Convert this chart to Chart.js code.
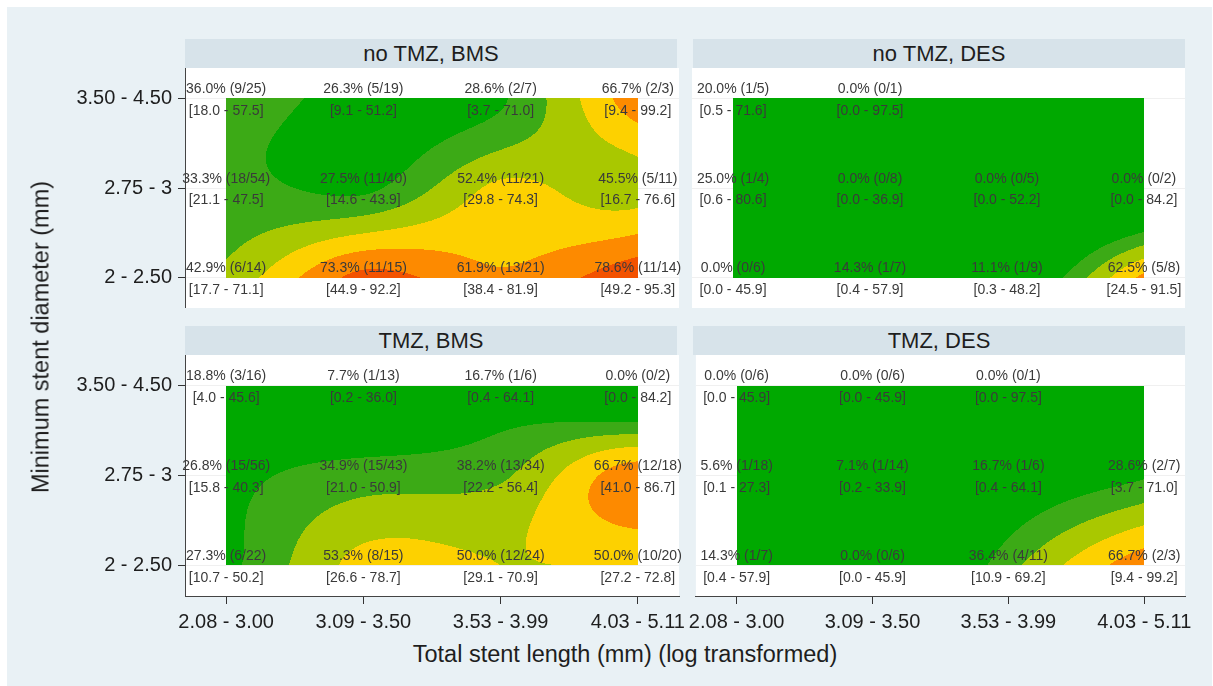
<!DOCTYPE html>
<html>
<head>
<meta charset="utf-8">
<script src="https://cdn.jsdelivr.net/npm/chart.js@4.4.1/dist/chart.umd.min.js"></script>
<style>
  body { margin: 0; background: #fff; font-family: "Liberation Sans", Arial, sans-serif; }
  #bg { position: absolute; left: 7px; top: 7px; width: 1205px; height: 679px; background: #e9f1f5; }
  .strip { position: absolute; width: 492px; height: 29px; background: #d7e3ea; color: #1e1e1e;
           font-size: 22px; line-height: 29px; text-align: center; }
  canvas { position: absolute; }
  .ttl { position: absolute; color: #1e1e1e; font-size: 23.5px; white-space: nowrap; }
</style>
</head>
<body>
<div id="bg"></div>
<div class="strip" style="left:185px;top:39px">no TMZ, BMS</div>
<div class="strip" style="left:693px;top:39px">no TMZ, DES</div>
<div class="strip" style="left:185px;top:326px">TMZ, BMS</div>
<div class="strip" style="left:693px;top:326px">TMZ, DES</div>
<canvas id="c1" width="730" height="240" style="left:10px;top:68px"></canvas>
<canvas id="c2" width="518" height="240" style="left:682px;top:68px"></canvas>
<canvas id="c3" width="730" height="281" style="left:10px;top:355px"></canvas>
<canvas id="c4" width="518" height="281" style="left:682px;top:355px"></canvas>
<div class="ttl" style="left:41px;top:337px;transform:translate(-50%,-50%) rotate(-90deg)">Minimum stent diameter (mm)</div>
<div class="ttl" style="left:625px;top:654px;transform:translate(-50%,-50%)">Total stent length (mm) (log transformed)</div>
<script>
// tick labels (x = total stent length groups, y = min diameter groups, bottom to top)
const lengthLabels = ['2.08 - 3.00', '3.09 - 3.50', '3.53 - 3.99', '4.03 - 5.11'];
const diamLabels = ['2 - 2.50', '2.75 - 3', '3.50 - 4.50'];

// rows are diameter groups (bottom to top), columns are length groups
const noTmzBmsPct = [[42.9, 73.3, 61.9, 78.6], [33.3, 27.5, 52.4, 45.5], [36.0, 26.3, 28.6, 66.7]];
const noTmzBmsEv  = [[6, 11, 13, 11], [18, 11, 11, 5], [9, 5, 2, 2]];
const noTmzBmsN   = [[14, 15, 21, 14], [54, 40, 21, 11], [25, 19, 7, 3]];
const noTmzBmsLo  = [[17.7, 44.9, 38.4, 49.2], [21.1, 14.6, 29.8, 16.7], [18.0, 9.1, 3.7, 9.4]];
const noTmzBmsHi  = [[71.1, 92.2, 81.9, 95.3], [47.5, 43.9, 74.3, 76.6], [57.5, 51.2, 71.0, 99.2]];

const noTmzDesPct = [[0.0, 14.3, 11.1, 62.5], [25.0, 0.0, 0.0, 0.0], [20.0, 0.0, null, null]];
const noTmzDesEv  = [[0, 1, 1, 5], [1, 0, 0, 0], [1, 0, null, null]];
const noTmzDesN   = [[6, 7, 9, 8], [4, 8, 5, 2], [5, 1, null, null]];
const noTmzDesLo  = [[0.0, 0.4, 0.3, 24.5], [0.6, 0.0, 0.0, 0.0], [0.5, 0.0, null, null]];
const noTmzDesHi  = [[45.9, 57.9, 48.2, 91.5], [80.6, 36.9, 52.2, 84.2], [71.6, 97.5, null, null]];

const tmzBmsPct = [[27.3, 53.3, 50.0, 50.0], [26.8, 34.9, 38.2, 66.7], [18.8, 7.7, 16.7, 0.0]];
const tmzBmsEv  = [[6, 8, 12, 10], [15, 15, 13, 12], [3, 1, 1, 0]];
const tmzBmsN   = [[22, 15, 24, 20], [56, 43, 34, 18], [16, 13, 6, 2]];
const tmzBmsLo  = [[10.7, 26.6, 29.1, 27.2], [15.8, 21.0, 22.2, 41.0], [4.0, 0.2, 0.4, 0.0]];
const tmzBmsHi  = [[50.2, 78.7, 70.9, 72.8], [40.3, 50.9, 56.4, 86.7], [45.6, 36.0, 64.1, 84.2]];

const tmzDesPct = [[14.3, 0.0, 36.4, 66.7], [5.6, 7.1, 16.7, 28.6], [0.0, 0.0, 0.0, null]];
const tmzDesEv  = [[1, 0, 4, 2], [1, 1, 1, 2], [0, 0, 0, null]];
const tmzDesN   = [[7, 6, 11, 3], [18, 14, 6, 7], [6, 6, 1, null]];
const tmzDesLo  = [[0.4, 0.0, 10.9, 9.4], [0.1, 0.2, 0.4, 3.7], [0.0, 0.0, 0.0, null]];
const tmzDesHi  = [[57.9, 45.9, 69.2, 99.2], [27.3, 33.9, 64.1, 71.0], [45.9, 45.9, 97.5, null]];

// contour cut points and fill colours
const cuts = [30, 40, 50, 60, 70, 80];
const levelColors = ['#00a900', '#3caa16', '#a9c800', '#fdd100', '#fd8a00', '#f35200', '#e3101a'];

function levelColor(v) {
  let k = 0;
  while (k < cuts.length && v >= cuts[k]) k++;
  return levelColors[k];
}

// thin plate spline surface through the observed cells (like Stata's contour default)
function fitSurface(grid) {
  const pts = [];
  grid.forEach((row, r) => row.forEach((v, c) => { if (v !== null) pts.push([c + 1, r + 1, v]); }));
  const n = pts.length, m = n + 3;
  const phi = (dx, dy) => { const r2 = dx * dx + dy * dy; return r2 > 0 ? 0.5 * r2 * Math.log(r2) : 0; };
  const A = Array.from({ length: m }, () => new Array(m + 1).fill(0));
  for (let i = 0; i < n; i++) {
    for (let j = 0; j < n; j++) A[i][j] = phi(pts[i][0] - pts[j][0], pts[i][1] - pts[j][1]);
    A[i][n] = 1; A[i][n + 1] = pts[i][0]; A[i][n + 2] = pts[i][1];
    A[n][i] = 1; A[n + 1][i] = pts[i][0]; A[n + 2][i] = pts[i][1];
    A[i][m] = pts[i][2];
  }
  for (let k = 0; k < m; k++) {
    let p = k;
    for (let i = k + 1; i < m; i++) if (Math.abs(A[i][k]) > Math.abs(A[p][k])) p = i;
    [A[k], A[p]] = [A[p], A[k]];
    for (let i = 0; i < m; i++) {
      if (i === k) continue;
      const f = A[i][k] / A[k][k];
      for (let j = k; j <= m; j++) A[i][j] -= f * A[k][j];
    }
  }
  const w = A.map((row, i) => row[m] / row[i]);
  return (x, y) => {
    let s = w[n] + w[n + 1] * x + w[n + 2] * y;
    for (let i = 0; i < n; i++) s += w[i] * phi(x - pts[i][0], y - pts[i][1]);
    return s;
  };
}

const plotBg = {
  id: 'plotBg',
  beforeDraw(chart) {
    const a = chart.chartArea, ctx = chart.ctx;
    ctx.save();
    ctx.fillStyle = '#ffffff';
    ctx.fillRect(a.left, a.top, a.right - a.left, a.bottom - a.top);
    ctx.restore();
  }
};

function contourPlugin(grid) {
  const surf = fitSurface(grid);
  return {
    id: 'contour',
    beforeDatasetsDraw(chart) {
      const xs = chart.scales.x, ys = chart.scales.y, ctx = chart.ctx;
      const x0 = Math.round(xs.getPixelForValue(1));
      const x1 = Math.round(xs.getPixelForValue(lengthLabels.length));
      const y0 = Math.round(ys.getPixelForValue(diamLabels.length));
      const y1 = Math.round(ys.getPixelForValue(1));
      ctx.save();
      for (let py = y0; py < y1; py++) {
        const v = ys.getValueForPixel(py + 0.5);
        let runStart = x0, runCol = null;
        for (let px = x0; px <= x1; px++) {
          let col = null;
          if (px < x1) col = levelColor(surf(xs.getValueForPixel(px + 0.5), v));
          if (col !== runCol) {
            if (runCol) { ctx.fillStyle = runCol; ctx.fillRect(runStart, py, px - runStart, 1); }
            runCol = col; runStart = px;
          }
        }
      }
      ctx.restore();
    }
  };
}

const cellLabels = {
  id: 'cellLabels',
  afterDatasetsDraw(chart) {
    const ctx = chart.ctx;
    const meta = chart.getDatasetMeta(0);
    const data = chart.data.datasets[0].data;
    ctx.save();
    ctx.font = '14px "Liberation Sans", Arial, sans-serif';
    ctx.fillStyle = '#3a3a3a';
    ctx.textAlign = 'center';
    ctx.textBaseline = 'middle';
    meta.data.forEach((pt, i) => {
      const d = data[i];
      ctx.fillText(d.pct.toFixed(1) + '% (' + d.ev + '/' + d.n + ')', pt.x, pt.y - 9);
      ctx.fillText('[' + d.lo.toFixed(1) + ' - ' + d.hi.toFixed(1) + ']', pt.x, pt.y + 12.5);
    });
    ctx.restore();
  }
};

function makePanel(id, pct, ev, n, lo, hi, showY, showX) {
  const pts = [];
  pct.forEach((row, r) => row.forEach((p, c) => {
    if (p !== null) pts.push({ x: c + 1, y: r + 1, pct: p, ev: ev[r][c], n: n[r][c], lo: lo[r][c], hi: hi[r][c] });
  }));
  const tickFont = { family: '"Liberation Sans", Arial, sans-serif', size: 20 };
  new Chart(document.getElementById(id), {
    type: 'scatter',
    data: { datasets: [{ data: pts, pointRadius: 0, pointHoverRadius: 0 }] },
    options: {
      responsive: false,
      animation: false,
      layout: { padding: showY ? { left: 0, right: 61, top: 0, bottom: 0 } : { left: 10, right: 15, top: 0, bottom: 0 } },
      plugins: { legend: { display: false }, tooltip: { enabled: false } },
      scales: {
        x: {
          type: 'linear', min: 0.7, max: 4.3,
          display: showX,
          afterBuildTicks: s => { s.ticks = lengthLabels.map((t, i) => ({ value: i + 1 })); },
          afterFit: s => { if (showX) s.height = 40; },
          ticks: { font: tickFont, color: '#1e1e1e', padding: 6, maxRotation: 0, autoSkip: false,
                   callback: v => lengthLabels[v - 1] },
          grid: { drawOnChartArea: false, tickLength: 8, tickColor: '#333' },
          border: { display: true, color: '#444' }
        },
        y: {
          type: 'linear', min: 0.66, max: 3.34,
          afterBuildTicks: s => { s.ticks = diamLabels.map((t, i) => ({ value: i + 1 })); },
          afterFit: s => { s.width = showY ? 175 : 0; s.paddingTop = 0; s.paddingBottom = 0; },
          ticks: { display: showY, font: tickFont, color: '#1e1e1e', padding: 6,
                   callback: v => diamLabels[v - 1] },
          grid: { color: 'rgba(0,0,0,0.06)', drawTicks: showY, tickLength: 7, tickColor: '#333' },
          border: { display: showY, color: '#444' }
        }
      }
    },
    plugins: [plotBg, contourPlugin(pct), cellLabels]
  });
}

makePanel('c1', noTmzBmsPct, noTmzBmsEv, noTmzBmsN, noTmzBmsLo, noTmzBmsHi, true, false);
makePanel('c2', noTmzDesPct, noTmzDesEv, noTmzDesN, noTmzDesLo, noTmzDesHi, false, false);
makePanel('c3', tmzBmsPct, tmzBmsEv, tmzBmsN, tmzBmsLo, tmzBmsHi, true, true);
makePanel('c4', tmzDesPct, tmzDesEv, tmzDesN, tmzDesLo, tmzDesHi, false, true);
</script>
</body>
</html>
